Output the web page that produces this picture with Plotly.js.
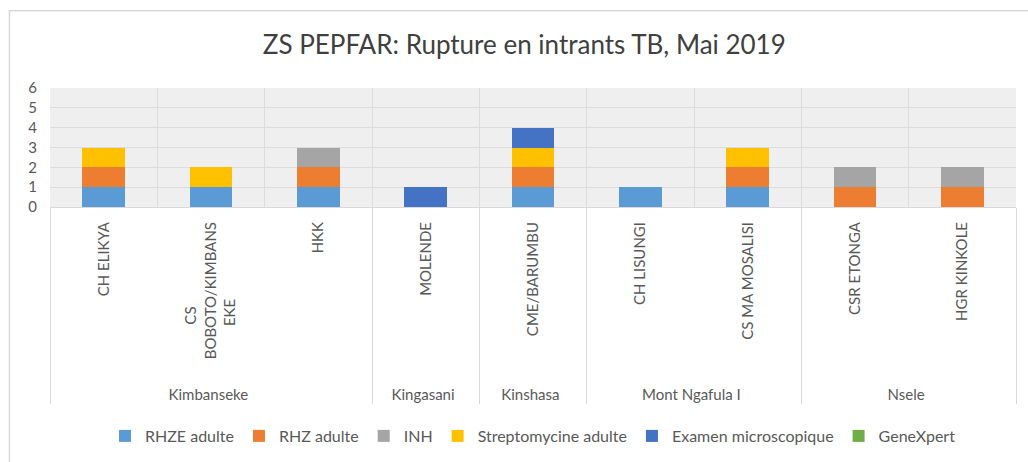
<!DOCTYPE html>
<html>
<head>
<meta charset="utf-8">
<script src="https://cdn.plot.ly/plotly-3.0.1.min.js"></script>
<style>
  html, body { margin: 0; padding: 0; background: #fff; }
  #chart { width: 1028px; height: 462px; }
</style>
</head>
<body>
<div id="chart"></div>
<script>
// zones (group level) and health facilities (inner level)
let zones = ['Kimbanseke', 'Kimbanseke', 'Kimbanseke', 'Kingasani', 'Kinshasa',
             'Mont Ngafula I', 'Mont Ngafula I', 'Nsele', 'Nsele'];
let sites = ['CH ELIKYA', 'CS<br>BOBOTO/KIMBANS<br>EKE', 'HKK', 'MOLENDE', 'CME/BARUMBU',
             'CH LISUNGI', 'CS MA MOSALISI', 'CSR ETONGA', 'HGR KINKOLE'];

// ruptures per intrant
let rhzeAdulte    = [1, 1, 1, 0, 1, 1, 1, 0, 0];
let rhzAdulte     = [1, 0, 1, 0, 1, 0, 1, 1, 1];
let inh           = [0, 0, 1, 0, 0, 0, 0, 1, 1];
let streptoAdulte = [1, 1, 0, 0, 1, 0, 1, 0, 0];
let examenMicro   = [0, 0, 0, 1, 1, 0, 0, 0, 0];
let geneXpert     = [0, 0, 0, 0, 0, 0, 0, 0, 0];

let yTicks = [0, 1, 2, 3, 4, 5, 6];

let seriesNames = ['RHZE adulte', 'RHZ adulte', 'INH', 'Streptomycine adulte', 'Examen microscopique', 'GeneXpert'];
let seriesValues = [rhzeAdulte, rhzAdulte, inh, streptoAdulte, examenMicro, geneXpert];
let seriesColors = ['#5b9bd5', '#ed7d31', '#a5a5a5', '#ffc000', '#4472c4', '#70ad47'];

// Excel centres the wrapped lines; pad them with nbsp so they sit the same way
function centreLines(label) {
    let lines = label.split('<br>');
    let longest = Math.max(...lines.map(s => s.length));
    return lines.map(s => {
        let pad = Math.round((longest - s.length) * 1.8);
        return s + '\u00a0'.repeat(pad);
    }).join('<br>');
}
let siteLabels = sites.map(s => s.includes('<br>') ? centreLines(s) : s);
// the long label runs a bit further than in Lato, so give it a little room
siteLabels[1] = siteLabels[1].replace('BOBOTO', '\u00a0\u00a0\u00a0\u00a0\u00a0BOBOTO');

let data = seriesNames.map((name, i) => ({
    x: [zones, siteLabels],
    y: seriesValues[i],
    type: 'bar',
    name: name,
    width: 0.4,
    marker: { color: seriesColors[i] },
    hoverinfo: 'skip'
}));

let font = 'Lato, "Open Sans", sans-serif';

let layout = {
    width: 1028,
    height: 462,
    margin: { l: 50, r: 12, t: 88, b: 254 },
    paper_bgcolor: '#ffffff',
    plot_bgcolor: '#efefef',
    barmode: 'stack',
    font: { family: font, color: '#595959', size: 14 },
    title: {
        text: 'ZS PEPFAR: Rupture en intrants TB, Mai 2019',
        font: { family: font, size: 26, color: '#404040' },
        x: 0.51, xanchor: 'center',
        y: 0.903, yanchor: 'middle'
    },
    xaxis: {
        type: 'multicategory',
        tickangle: -90,
        tickfont: { size: 15, color: '#595959' },
        ticklabelstandoff: 8,
        showgrid: true,
        gridcolor: '#dcdcdc',
        tickson: 'boundaries',
        ticks: '',
        showline: true,
        linecolor: '#d9d9d9',
        showdividers: true,
        dividercolor: '#d9d9d9',
        dividerwidth: 1
    },
    yaxis: {
        range: [0, 6],
        tickvals: yTicks,
        showgrid: true,
        gridcolor: '#dcdcdc',
        zeroline: false,
        tickfont: { size: 15, color: '#595959' },
        ticklabelstandoff: 12,
        ticks: '',
        fixedrange: true
    },
    legend: {
        orientation: 'h',
        x: 0.5, xanchor: 'center',
        y: -1.9, yanchor: 'middle',
        font: { size: 16, color: '#595959' },
        traceorder: 'normal'
    },
    shapes: [{
        type: 'rect', xref: 'paper', yref: 'paper',
        x0: -0.042, x1: 1.05, y0: -2.5, y1: 1.65,
        line: { color: '#d9d9d9', width: 1.5 }
    }]
};

Plotly.newPlot('chart', data, layout, { staticPlot: true });
</script>
</body>
</html>
